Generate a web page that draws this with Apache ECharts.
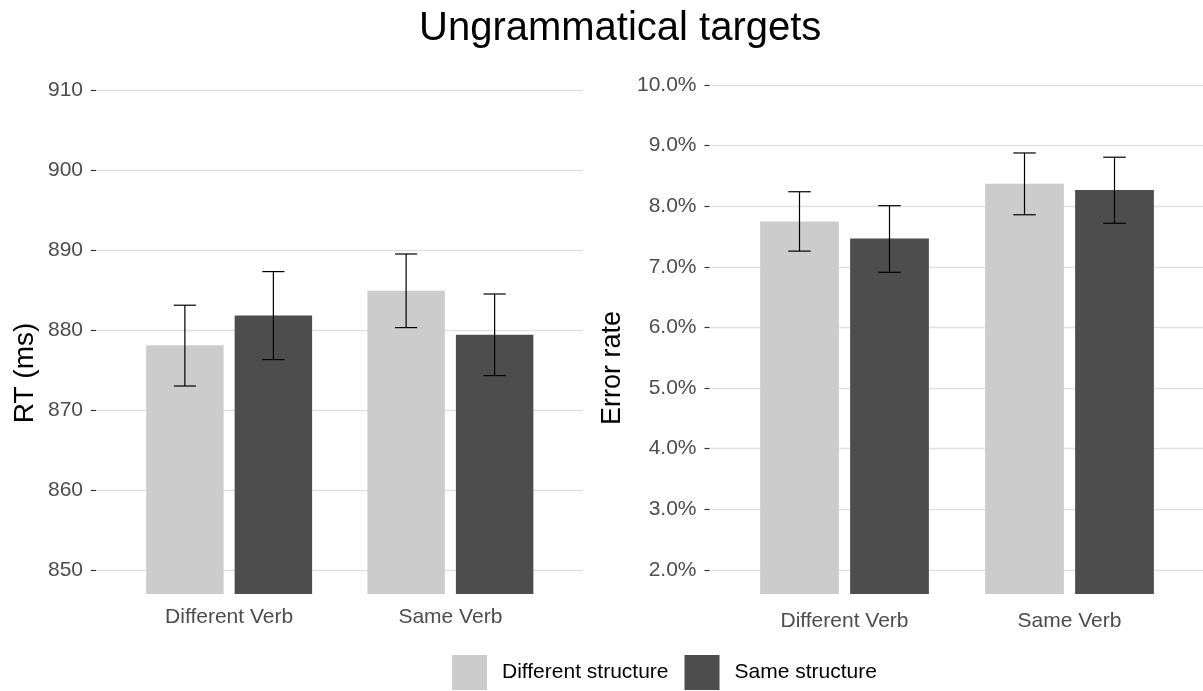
<!DOCTYPE html>
<html><head><meta charset="utf-8">
<script src="https://cdn.jsdelivr.net/npm/echarts@6/dist/echarts.min.js"></script>
<style>html,body{margin:0;padding:0;background:#fff}#chart{width:1203px;height:691px}</style>
</head><body><div id="chart"></div>
<script>
// Verb conditions on the x axis, structure groups as the two bar series
const verbConditions = ['Different Verb', 'Same Verb'];
const structureGroups = ['Different structure', 'Same structure'];

// Reaction time (ms): means and error-bar bounds
const rtDiffStructMean = [878.1, 884.9];
const rtDiffStructLow = [873.0, 880.3];
const rtDiffStructHigh = [883.1, 889.5];
const rtSameStructMean = [881.8, 879.4];
const rtSameStructLow = [876.3, 874.3];
const rtSameStructHigh = [887.3, 884.5];

// Error rate (%): means and error-bar bounds
const errDiffStructMean = [7.75, 8.37];
const errDiffStructLow = [7.26, 7.86];
const errDiffStructHigh = [8.24, 8.88];
const errSameStructMean = [7.47, 8.27];
const errSameStructLow = [6.91, 7.72];
const errSameStructHigh = [8.01, 8.81];

// Tick labels
const rtTicks = [850, 860, 870, 880, 890, 900, 910];
const errTicks = [2, 3, 4, 5, 6, 7, 8, 9, 10];

const FONT = '"Liberation Sans", Arial, sans-serif';
const LIGHT = '#CCCCCC';
const DARK = '#4D4D4D';
const TXT = '#4D4D4D';

const RT_MIN = 847, RT_MAX = 912;
const ERR_MIN = 1.6, ERR_MAX = 10.2;

function valueAxis(gridIndex, min, max, ticks, fmt, visible) {
  return {
    type: 'value', gridIndex, min, max,
    show: visible,
    axisLine: { show: false },
    axisTick: { show: true, length: 5, lineStyle: { color: '#333', width: 1.2 }, customValues: ticks },
    axisLabel: { customValues: ticks, formatter: fmt, color: TXT, fontSize: 21, fontFamily: FONT, margin: 13 },
    splitLine: { show: true, lineStyle: { color: '#E2E2E2', width: 1.3 } }
  };
}

function errorBars(name, xi, yi, low, high, side) {
  return {
    type: 'custom', name, xAxisIndex: xi, yAxisIndex: yi, z: 5,
    data: verbConditions.map((c, i) => [i, low[i], high[i]]),
    encode: { x: 0, y: [1, 2] },
    renderItem(params, api) {
      const unit = api.size([1, 0])[0];
      const cat = api.value(0);
      const x = api.coord([cat, 0])[0] + side * 0.2 * unit;
      const yLo = api.coord([cat, api.value(1)])[1];
      const yHi = api.coord([cat, api.value(2)])[1];
      const cap = 0.05 * unit;
      const st = { stroke: '#000', lineWidth: 1.2 };
      return {
        type: 'group', children: [
          { type: 'line', shape: { x1: x, y1: yLo, x2: x, y2: yHi }, style: st },
          { type: 'line', shape: { x1: x - cap, y1: yHi, x2: x + cap, y2: yHi }, style: st },
          { type: 'line', shape: { x1: x - cap, y1: yLo, x2: x + cap, y2: yLo }, style: st }
        ]
      };
    }
  };
}

function bars(name, xi, yi, values, color) {
  return {
    type: 'bar', name, xAxisIndex: xi, yAxisIndex: yi,
    data: values, barWidth: '35%', barGap: '14.2857%',
    itemStyle: { color }, silent: true
  };
}

const chart = echarts.init(document.getElementById('chart'), null, { renderer: 'canvas' });
const rtFmt = v => String(v);
const errFmt = v => v.toFixed(1) + '%';

chart.setOption({
  animation: false,
  backgroundColor: '#fff',
  title: {
    text: 'Ungrammatical targets', left: 414, top: 4,
    textStyle: { fontSize: 40, fontWeight: 'normal', color: '#000', fontFamily: FONT }
  },
  legend: {
    data: structureGroups, left: 452, top: 655, padding: 0, icon: 'rect',
    itemWidth: 35, itemHeight: 35, itemGap: 16, selectedMode: false,
    textStyle: { fontSize: 21, color: '#000', fontFamily: FONT, padding: [0, 0, 0, 10] }
  },
  grid: [
    { left: 96, right: 620, top: 74, bottom: 97 },   // RT gridlines
    { left: 118.5, right: 642, top: 74, bottom: 97 }, // RT bars
    { left: 709.5, right: 0, top: 73, bottom: 97 },  // error-rate gridlines
    { left: 732, right: 21, top: 73, bottom: 97 }     // error-rate bars
  ],
  xAxis: [
    { type: 'category', gridIndex: 0, data: verbConditions, show: false },
    { type: 'category', gridIndex: 1, data: verbConditions,
      axisLine: { show: false }, axisTick: { show: false }, splitLine: { show: false },
      axisLabel: { color: TXT, fontSize: 21, fontFamily: FONT, margin: 13 } },
    { type: 'category', gridIndex: 2, data: verbConditions, show: false },
    { type: 'category', gridIndex: 3, data: verbConditions,
      axisLine: { show: false }, axisTick: { show: false }, splitLine: { show: false },
      axisLabel: { color: TXT, fontSize: 21, fontFamily: FONT, margin: 17 } }
  ],
  yAxis: [
    valueAxis(0, RT_MIN, RT_MAX, rtTicks, rtFmt, true),
    valueAxis(1, RT_MIN, RT_MAX, rtTicks, rtFmt, false),
    valueAxis(2, ERR_MIN, ERR_MAX, errTicks, errFmt, true),
    valueAxis(3, ERR_MIN, ERR_MAX, errTicks, errFmt, false)
  ],
  graphic: [
    { type: 'text', x: 25, y: 373, rotation: Math.PI / 2,
      style: { text: 'RT (ms)', fill: '#000', font: '28px ' + FONT, align: 'center', verticalAlign: 'middle' } },
    { type: 'text', x: 613, y: 368, rotation: Math.PI / 2,
      style: { text: 'Error rate', fill: '#000', font: '27px ' + FONT, align: 'center', verticalAlign: 'middle' } }
  ],
  series: [
    bars(structureGroups[0], 1, 1, rtDiffStructMean, LIGHT),
    bars(structureGroups[1], 1, 1, rtSameStructMean, DARK),
    errorBars('rt-err-diff', 1, 1, rtDiffStructLow, rtDiffStructHigh, -1),
    errorBars('rt-err-same', 1, 1, rtSameStructLow, rtSameStructHigh, 1),
    bars(structureGroups[0], 3, 3, errDiffStructMean, LIGHT),
    bars(structureGroups[1], 3, 3, errSameStructMean, DARK),
    errorBars('err-err-diff', 3, 3, errDiffStructLow, errDiffStructHigh, -1),
    errorBars('err-err-same', 3, 3, errSameStructLow, errSameStructHigh, 1)
  ]
});
</script>
</body></html>
